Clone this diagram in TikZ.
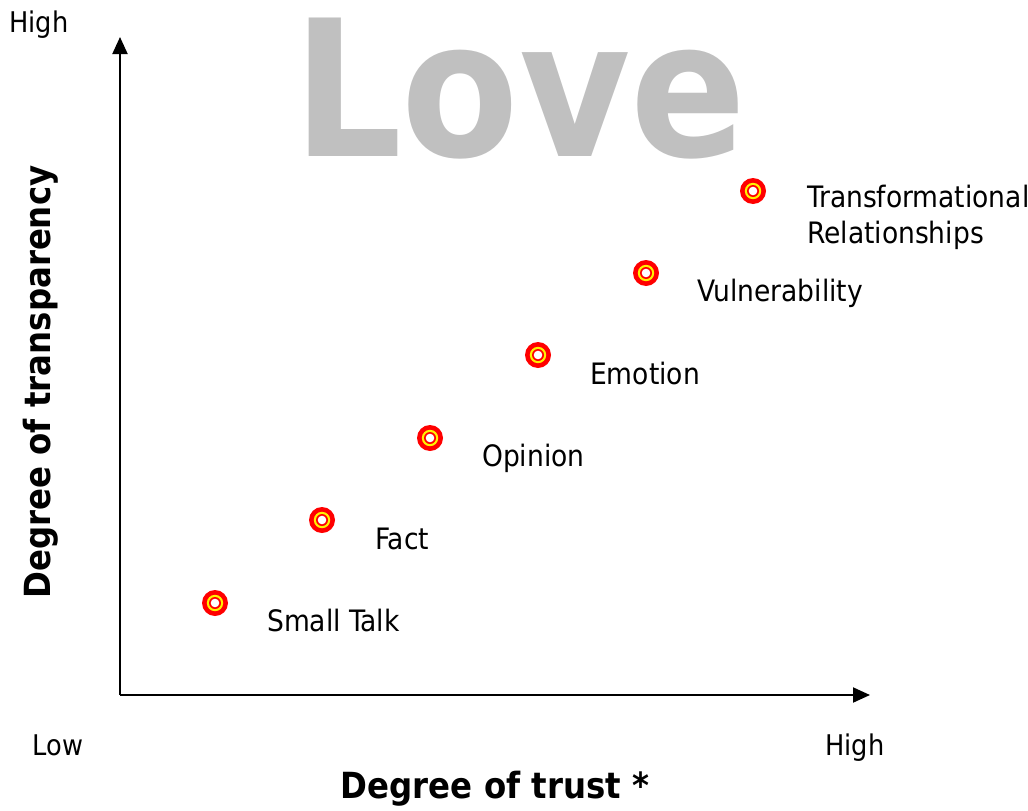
\documentclass[tikz,border=0pt]{standalone}
\usepackage{fontspec}
\setmainfont{DejaVu Sans Condensed}
\usetikzlibrary{arrows.meta,positioning}

\definecolor{lovegray}{RGB}{192,192,192}

\tikzset{
  bullseye/.style={circle, fill=red, inner sep=0pt, minimum size=26pt,
    path picture={
      \fill[yellow] (path picture bounding box.center) circle (8.2pt);
      \fill[red] (path picture bounding box.center) circle (6pt);
      \fill[white] (path picture bounding box.center) circle (4.3pt);
    }},
  axis/.style={line width=2pt, -{Triangle[length=17pt,width=15pt]}},
  steplabel/.style={anchor=base west, inner sep=0pt, font=\fontsize{29.5}{36}\selectfont},
  endlabel/.style={anchor=base, inner sep=0pt, font=\fontsize{28.5}{34}\selectfont},
  axistitle/.style={inner sep=0pt, font=\fontsize{36}{42}\selectfont\bfseries}
}

\begin{document}
\begin{tikzpicture}[x=1pt, y=-1pt]

\useasboundingbox (0,0) rectangle (1028,811);

% Big watermark word
\node[anchor=base, inner sep=0pt, text=lovegray, font=\fontsize{190}{190}\selectfont\bfseries] (love) at (520,156) {Love};

% Axes
\coordinate (origin) at (120,695);
\coordinate (ytip) at (120,37);
\coordinate (xtip) at (870,695);
\draw[axis] (origin) -- (ytip);
\draw[axis] (origin) -- (xtip);

% Axis titles and ends
\node[axistitle] (xtitle) at (495,789) {Degree of trust *};
\node[axistitle, rotate=90] (ytitle) at (41,382) {Degree of transparency};
\node[endlabel] (yhigh) at (39,32) {High};
\node[endlabel] (xlow) at (58,755) {Low};
\node[endlabel] (xhigh) at (855,755) {High};

% Steps
\foreach \n/\x/\y in {1/215/603, 2/322/520, 3/430/438, 4/538/355, 5/646/273, 6/753/191}
  \node[bullseye] (m\n) at (\x,\y) {};

\node[steplabel] (l1) at (267,631) {Small Talk};
\node[steplabel] (l2) at (375,549) {Fact};
\node[steplabel] (l3) at (482,466) {Opinion};
\node[steplabel] (l4) at (590,384) {Emotion};
\node[steplabel] (l5) at (697,301) {Vulnerability};
\node[steplabel, anchor=north west, align=left] (l6) at (807,185) {Transformational\\Relationships};

\end{tikzpicture}
\end{document}
